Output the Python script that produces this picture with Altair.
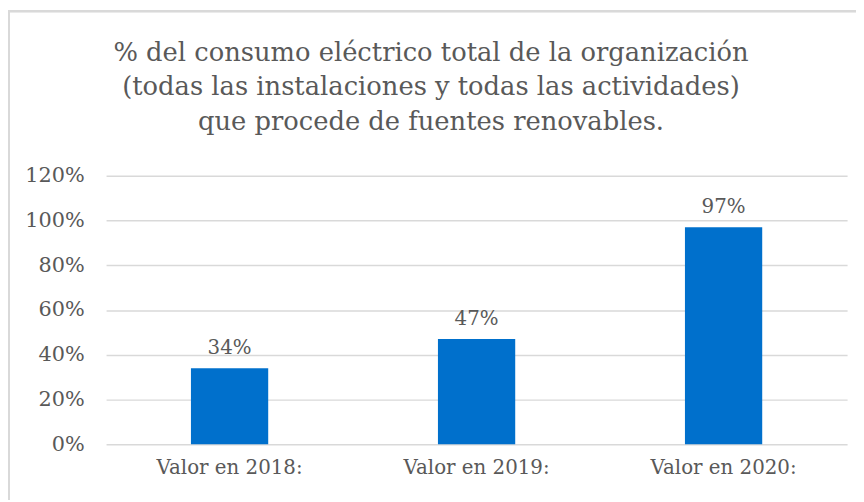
import altair as alt
import pandas as pd

categories = ["Valor en 2018:", "Valor en 2019:", "Valor en 2020:"]
values = [0.34, 0.47, 0.97]
labels = ["34%", "47%", "97%"]

df = pd.DataFrame({"cat": categories, "val": values, "lab": labels})

FONT = "DejaVu Serif"
GRAY = "#595959"

x = alt.X("cat:N", sort=categories, title=None,
          scale=alt.Scale(paddingInner=0, paddingOuter=0),
          axis=alt.Axis(labelAngle=0, labelFont=FONT, labelFontSize=20, labelColor=GRAY,
                        domain=False, ticks=False, labelPadding=14))
y = alt.Y("val:Q", title=None,
          scale=alt.Scale(domain=[0, 1.2], nice=False),
          axis=alt.Axis(values=[0, 0.2, 0.4, 0.6, 0.8, 1.0, 1.2], format=".0%",
                        labelFont=FONT, labelFontSize=21, labelColor=GRAY,
                        domain=False, ticks=False, labelPadding=22,
                        grid=True, gridColor="#D9D9D9", gridWidth=1.5))

border = alt.Chart(df).mark_rect(fill=None, stroke="#D9D9D9", strokeWidth=2, clip=False).encode(
    x=alt.value(-98), x2=alt.value(790), y=alt.value(-166), y2=alt.value(380)
)

bars = alt.Chart(df).mark_bar(size=78, color="#0070CC").encode(x=x, y=y)
text = alt.Chart(df).mark_text(baseline="bottom", dy=-10, font=FONT, fontSize=20, color=GRAY).encode(
    x=alt.X("cat:N", sort=categories), y="val:Q", text="lab:N"
)

chart = alt.layer(border, bars, text).properties(
    width=748, height=271,
    autosize=alt.AutoSizeParams(type="none"),
    padding={"left": 99, "top": 167, "right": 9, "bottom": 54},
    title=alt.TitleParams(
        text=["% del consumo eléctrico total de la organización",
              "(todas las instalaciones  y todas las actividades)",
              "que procede de fuentes renovables."],
        font=FONT, fontSize=26, fontWeight="normal", color=GRAY,
        anchor="middle", frame="group", dx=-46, offset=-126, lineHeight=35,
    ),
).configure_view(stroke=None)

chart.save("out.html", embed_options={"renderer": "svg", "actions": False})
